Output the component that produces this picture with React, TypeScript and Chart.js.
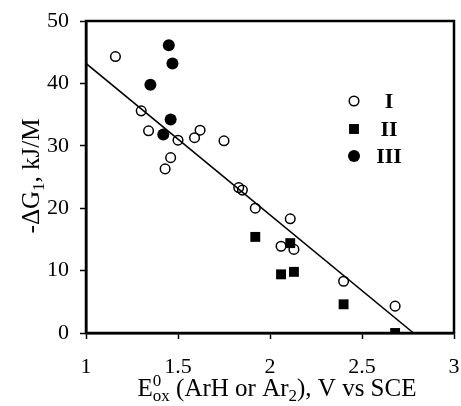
import React, { useEffect, useRef } from "react";
import { Chart, registerables } from "chart.js";

Chart.register(...registerables);

// Series I (open circles)
const seriesIX = [1.16, 1.30, 1.34, 1.43, 1.46, 1.50, 1.59, 1.62, 1.75, 1.83, 1.85, 1.92, 2.06, 2.11, 2.13, 2.40, 2.68];
const seriesIY = [44.3, 35.6, 32.4, 26.3, 28.1, 30.9, 31.3, 32.5, 30.8, 23.3, 22.9, 20.0, 13.9, 18.3, 13.4, 8.3, 4.3];
// Series II (filled squares)
const seriesIIX = [1.92, 2.06, 2.11, 2.13, 2.40, 2.68];
const seriesIIY = [15.4, 9.4, 14.4, 9.8, 4.6, 0.0];
// Series III (filled circles)
const seriesIIIX = [1.35, 1.42, 1.45, 1.46, 1.47];
const seriesIIIY = [39.8, 31.8, 46.1, 34.2, 43.2];
// Fitted line
const fitX = [1.0, 2.78];
const fitY = [43.2, 0.0];

const legendLabels = ["I", "II", "III"];
const xTickValues = [1, 1.5, 2, 2.5, 3];
const yTickValues = [0, 10, 20, 30, 40, 50];

const SERIF = "'Liberation Serif', 'Times New Roman', serif";

type Seg = { t: string; size: number; dy: number; stack?: boolean; bold?: boolean };

const xTitleSegs: Seg[] = [
  { t: "E", size: 25, dy: 0 },
  { t: "0", size: 17, dy: -10 },
  { t: "ox", size: 17, dy: 5, stack: true },
  { t: " (ArH or Ar", size: 25, dy: 0 },
  { t: "2", size: 17, dy: 5 },
  { t: "), V vs SCE", size: 25, dy: 0 },
];
const yTitleSegs: Seg[] = [
  { t: "-\u0394G", size: 25, dy: 0 },
  { t: "1", size: 17, dy: 5 },
  { t: ", kJ/M", size: 25, dy: 0 },
];

function measureRich(ctx: CanvasRenderingContext2D, segs: Seg[]) {
  let w = 0;
  let prevStart = 0;
  let prevW = 0;
  for (const s of segs) {
    ctx.font = `${s.bold ? "bold " : ""}${s.size}px ${SERIF}`;
    const sw = ctx.measureText(s.t).width;
    if (s.stack) {
      w = prevStart + Math.max(prevW, sw);
      prevW = Math.max(prevW, sw);
    } else {
      prevStart = w;
      prevW = sw;
      w += sw;
    }
  }
  return w;
}

function drawRich(ctx: CanvasRenderingContext2D, segs: Seg[], cx: number, baseline: number) {
  const total = measureRich(ctx, segs);
  let x = cx - total / 2;
  let prevStart = x;
  let prevW = 0;
  ctx.textAlign = "left";
  ctx.textBaseline = "alphabetic";
  ctx.fillStyle = "#000";
  for (const s of segs) {
    ctx.font = `${s.bold ? "bold " : ""}${s.size}px ${SERIF}`;
    const sw = ctx.measureText(s.t).width;
    if (s.stack) {
      ctx.fillText(s.t, prevStart, baseline + s.dy);
      x = prevStart + Math.max(prevW, sw);
      prevW = Math.max(prevW, sw);
    } else {
      ctx.fillText(s.t, x, baseline + s.dy);
      prevStart = x;
      prevW = sw;
      x += sw;
    }
  }
}

const decorPlugin = {
  id: "decor",
  afterDraw(chart: any) {
    const ctx = chart.ctx as CanvasRenderingContext2D;
    const a = chart.chartArea;
    ctx.save();
    // frame
    ctx.strokeStyle = "#000";
    ctx.lineWidth = 2.5;
    ctx.strokeRect(a.left, a.top, a.right - a.left, a.bottom - a.top);

    // axis titles
    drawRich(ctx, xTitleSegs, 277, 396);
    ctx.save();
    ctx.translate(39, 176);
    ctx.rotate(-Math.PI / 2);
    drawRich(ctx, yTitleSegs, 0, 0);
    ctx.restore();

    // legend
    const rows = [101, 129, 156];
    const mx = 354;
    const tx = 389;
    chart.data.datasets.slice(0, 3).forEach((ds: any, i: number) => {
      const y = rows[i];
      ctx.beginPath();
      ctx.lineWidth = ds.borderWidth;
      ctx.strokeStyle = ds.borderColor;
      ctx.fillStyle = ds.backgroundColor;
      if (ds.pointStyle === "rect") {
        const h = ds.pointRadius * Math.SQRT1_2;
        ctx.rect(mx - h, y - h, 2 * h, 2 * h);
        ctx.fill();
      } else {
        ctx.arc(mx, y, ds.pointRadius, 0, Math.PI * 2);
        ctx.fill();
        if (ds.borderWidth > 0) ctx.stroke();
      }
      ctx.fillStyle = "#000";
      ctx.font = `bold 22px ${SERIF}`;
      ctx.textAlign = "center";
      ctx.textBaseline = "middle";
      ctx.fillText(legendLabels[i], tx, y + 1);
    });
    ctx.restore();
  },
};

const toPts = (xs: number[], ys: number[]) => xs.map((x, i) => ({ x, y: ys[i] }));

export default function App() {
  const ref = useRef<HTMLCanvasElement | null>(null);
  useEffect(() => {
    if (!ref.current) return;
    const chart = new Chart(ref.current, {
      type: "scatter",
      data: {
        datasets: [
          {
            label: legendLabels[0],
            data: toPts(seriesIX, seriesIY),
            pointStyle: "circle",
            pointRadius: 4.8,
            borderWidth: 1.5,
            borderColor: "#000",
            backgroundColor: "rgba(255,255,255,0)",
          },
          {
            label: legendLabels[1],
            data: toPts(seriesIIX, seriesIIY),
            pointStyle: "rect",
            pointRadius: 7,
            borderWidth: 0,
            borderColor: "#000",
            backgroundColor: "#000",
          },
          {
            label: legendLabels[2],
            data: toPts(seriesIIIX, seriesIIIY),
            pointStyle: "circle",
            pointRadius: 6,
            borderWidth: 0,
            borderColor: "#000",
            backgroundColor: "#000",
          },
          {
            type: "line",
            label: "fit",
            data: toPts(fitX, fitY),
            showLine: true,
            pointRadius: 0,
            borderColor: "#000",
            borderWidth: 1.5,
            fill: false,
          } as any,
        ],
      },
      options: {
        animation: false,
        responsive: true,
        maintainAspectRatio: false,
        layout: { padding: { top: 21, right: 2, left: 0, bottom: 0 } },
        plugins: {
          legend: { display: false },
          tooltip: { enabled: false },
          title: { display: false },
        },
        scales: {
          x: {
            type: "linear",
            min: 1,
            max: 3,
            afterBuildTicks: (s: any) => {
              s.ticks = xTickValues.map((v) => ({ value: v }));
            },
            afterFit: (s: any) => {
              s.height = 73;
              s.paddingLeft = 0;
              s.paddingRight = 0;
            },
            ticks: {
              color: "#000",
              font: { family: SERIF, size: 22 },
              padding: 15,
              maxRotation: 0,
              autoSkip: false,
              callback: (v: any) => String(v),
            },
            grid: {
              display: true,
              drawOnChartArea: false,
              drawTicks: true,
              tickLength: 6,
              tickWidth: 1.5,
              tickColor: "#000",
            },
            border: { display: true, color: "#000", width: 2.5 },
          },
          y: {
            type: "linear",
            min: 0,
            max: 50,
            afterBuildTicks: (s: any) => {
              s.ticks = yTickValues.map((v) => ({ value: v }));
            },
            afterFit: (s: any) => {
              s.width = 86;
              s.paddingTop = 0;
              s.paddingBottom = 0;
            },
            ticks: {
              color: "#000",
              font: { family: SERIF, size: 22 },
              padding: 11,
              autoSkip: false,
              callback: (v: any) => String(v),
            },
            grid: {
              display: true,
              drawOnChartArea: false,
              drawTicks: true,
              tickLength: 6,
              tickWidth: 1.5,
              tickColor: "#000",
            },
            border: { display: true, color: "#000", width: 2.5 },
          },
        },
      },
      plugins: [decorPlugin],
    });
    return () => chart.destroy();
  }, []);

  return (
    <div style={{ position: "fixed", left: 0, top: 0, width: 461, height: 406, background: "#fff" }}>
      <canvas ref={ref} />
    </div>
  );
}
